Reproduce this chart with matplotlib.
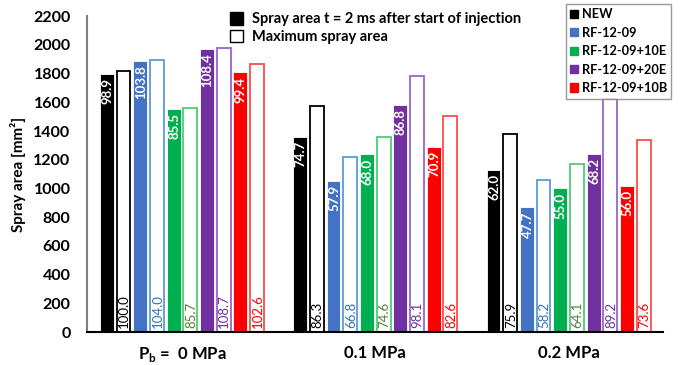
import matplotlib
matplotlib.use("Agg")
import matplotlib.pyplot as plt
from matplotlib.patches import Patch
import numpy as np

plt.rcParams["font.family"] = ["Lato", "DejaVu Sans"]
plt.rcParams["mathtext.fontset"] = "custom"
plt.rcParams["mathtext.rm"] = "Lato:bold"

pressures = ["P$_\\mathrm{b}$ =  0 MPa", "0.1 MPa", "0.2 MPa"]
fuels = ["NEW", "RF-12-09", "RF-12-09+10E", "RF-12-09+20E", "RF-12-09+10B"]

# spray area 2 ms after start of injection [mm2], per fuel over pressures
area_2ms = {
    "NEW":          [1800, 1360, 1128],
    "RF-12-09":     [1889, 1054, 868],
    "RF-12-09+10E": [1556, 1238, 1001],
    "RF-12-09+20E": [1973, 1580, 1241],
    "RF-12-09+10B": [1809, 1290, 1019],
}
# maximum spray area [mm2]
area_max = {
    "NEW":          [1820, 1571, 1381],
    "RF-12-09":     [1893, 1216, 1059],
    "RF-12-09+10E": [1560, 1358, 1167],
    "RF-12-09+20E": [1978, 1785, 1623],
    "RF-12-09+10B": [1867, 1503, 1340],
}
# relative to NEW maximum at 0 MPa [%]
pct_2ms = {
    "NEW":          [98.9, 74.7, 62.0],
    "RF-12-09":     [103.8, 57.9, 47.7],
    "RF-12-09+10E": [85.5, 68.0, 55.0],
    "RF-12-09+20E": [108.4, 86.8, 68.2],
    "RF-12-09+10B": [99.4, 70.9, 56.0],
}
pct_max = {
    "NEW":          [100.0, 86.3, 75.9],
    "RF-12-09":     [104.0, 66.8, 58.2],
    "RF-12-09+10E": [85.7, 74.6, 64.1],
    "RF-12-09+20E": [108.7, 98.1, 89.2],
    "RF-12-09+10B": [102.6, 82.6, 73.6],
}

fill_colors = ["#000000", "#4472C4", "#00B050", "#7030A0", "#FF0000"]
edge_colors = ["#000000", "#5B9BD5", "#4FCB75", "#9966CC", "#FF4B4B"]
text_colors = ["#000000", "#2E75B6", "#548235", "#7030A0", "#FF0000"]

x = np.arange(len(pressures))
step = 0.0863
width = 0.072

fig = plt.figure(figsize=(6.81, 3.65), dpi=100)
ax = fig.add_axes([0.128, 0.090, 0.846, 0.866])

for i, fuel in enumerate(fuels):
    xf = x + (2 * i - 4.5) * step
    xo = x + (2 * i + 1 - 4.5) * step
    bf = ax.bar(xf, area_2ms[fuel], width, color=fill_colors[i],
                edgecolor="white", linewidth=0.6, zorder=2)
    bo = ax.bar(xo, area_max[fuel], width, color="white",
                edgecolor=edge_colors[i], linewidth=1.3, zorder=2)
    for bar, p in zip(bf, pct_2ms[fuel]):
        ax.annotate(f"{p:.1f}", (bar.get_x() + bar.get_width() / 2, bar.get_height()),
                    xytext=(0.5, -3), textcoords="offset points", rotation=90,
                    ha="center", va="top", color="white", fontsize=9.5,
                    fontweight="bold", zorder=3)
    for bar, p in zip(bo, pct_max[fuel]):
        ax.annotate(f"{p:.1f}", (bar.get_x() + bar.get_width() / 2, 0),
                    xytext=(0.5, 3), textcoords="offset points", rotation=90,
                    ha="center", va="bottom", color=text_colors[i], fontsize=9.5,
                    zorder=3)

ax.set_xlim(-0.49, 2.49)
ax.set_ylim(0, 2200)
ax.set_yticks(np.arange(0, 2201, 200))
ax.set_xticks(x)
ax.set_xticklabels(pressures, fontsize=12, fontweight="bold")
ax.tick_params(axis="x", length=0, pad=9)
ax.tick_params(axis="y", length=0, pad=12, labelsize=11.5)
for lbl in ax.get_yticklabels():
    lbl.set_fontweight("bold")
ax.set_ylabel("Spray area [mm²]", fontsize=11, fontweight="bold", labelpad=5)

for s in ["top", "right"]:
    ax.spines[s].set_visible(False)
ax.spines["left"].set_color("#808080")
ax.spines["left"].set_linewidth(1.5)
ax.spines["bottom"].set_linewidth(1.5)

# bar type legend
type_handles = [Patch(facecolor="black", edgecolor="black"),
                Patch(facecolor="white", edgecolor="black")]
leg1 = fig.legend(type_handles,
                  ["Spray area t = 2 ms after start of injection", "Maximum spray area"],
                  loc="upper left", bbox_to_anchor=(0.325, 0.99), frameon=False,
                  prop={"weight": "bold", "size": 10.5}, handlelength=0.9,
                  handleheight=0.9, handletextpad=0.6, labelspacing=0.25,
                  borderaxespad=0.2)

# fuel legend
fuel_handles = [Patch(facecolor=c, edgecolor=c) for c in fill_colors]
leg2 = fig.legend(fuel_handles, fuels, loc="upper right", bbox_to_anchor=(0.986, 0.989),
                  frameon=True, fancybox=False, edgecolor="#808080",
                  prop={"weight": "bold", "size": 9.2}, handlelength=0.6,
                  handleheight=0.6, handletextpad=0.3, labelspacing=0.5,
                  borderpad=0.35, borderaxespad=0.0)
leg2.get_frame().set_linewidth(1.0)

fig.savefig("out.png", dpi=100)
